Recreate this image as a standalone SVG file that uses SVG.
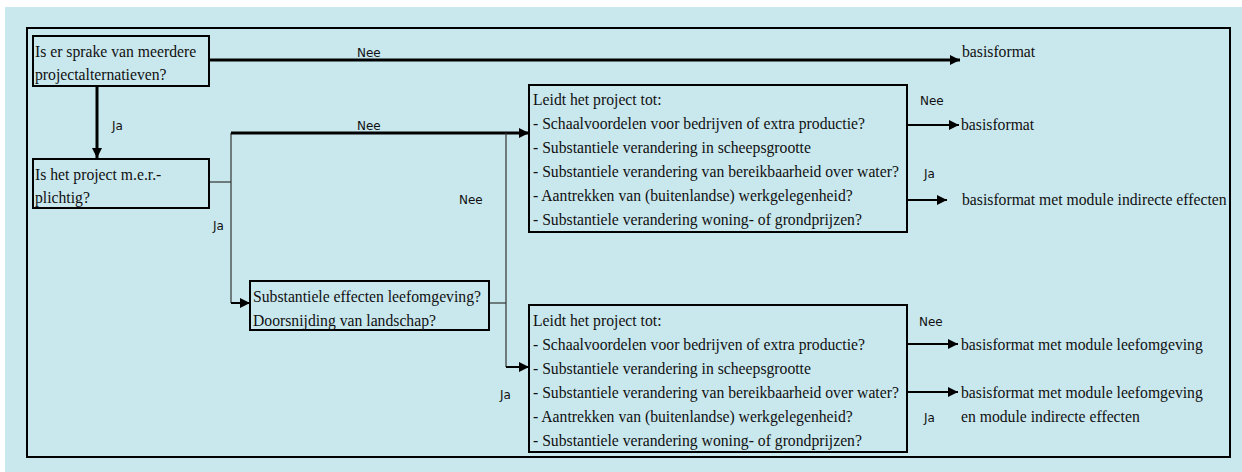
<svg xmlns="http://www.w3.org/2000/svg" width="1242" height="472" viewBox="0 0 1242 472">
<style>
.bg{fill:#c9e8ee}
.box{fill:none;stroke:#000;stroke-width:2}
.t{font-family:"Liberation Serif","Times New Roman",serif;font-size:15.7px;fill:#111}
.l{font-family:"DejaVu Sans",sans-serif;font-size:12px;fill:#111}
.thin{stroke:#333;stroke-width:1.2;fill:none}
.thick{stroke:#000;stroke-width:3;fill:none}
.med{stroke:#000;stroke-width:2;fill:none}
</style>
<defs>
<marker id="ah" viewBox="0 0 10 10" refX="10" refY="5" markerWidth="10" markerHeight="10" markerUnits="userSpaceOnUse" orient="auto">
<path d="M0,0 L10,5 L0,10 Z" fill="#000"/>
</marker>
</defs>
<rect class="bg" x="5" y="7" width="1237" height="465"/>
<rect x="27" y="28" width="1203" height="429" fill="none" stroke="#000" stroke-width="2"/>

<g id="connectors">
<line class="thick" x1="209" y1="60" x2="960" y2="60" marker-end="url(#ah)"/>
<line class="thick" x1="97" y1="86" x2="97" y2="158" marker-end="url(#ah)"/>
<polyline class="thin" points="209,182 231,182"/>
<line class="thin" x1="231" y1="133" x2="231" y2="303"/>
<line class="thick" x1="231" y1="133" x2="529" y2="133" marker-end="url(#ah)"/>
<line class="med" x1="231" y1="303" x2="250" y2="303" marker-end="url(#ah)"/>
<polyline class="thin" points="489,303 506,303"/>
<line class="thin" x1="506" y1="133" x2="506" y2="367"/>
<line class="med" x1="506" y1="367" x2="529" y2="367" marker-end="url(#ah)"/>
<line class="med" x1="907" y1="125" x2="959" y2="125" marker-end="url(#ah)"/>
<line class="med" x1="907" y1="200" x2="947" y2="200" marker-end="url(#ah)"/>
<line class="med" x1="907" y1="344" x2="958" y2="344" marker-end="url(#ah)"/>
<line class="med" x1="907" y1="392" x2="958" y2="392" marker-end="url(#ah)"/>
<text class="l" x="357" y="57">Nee</text>
<text class="l" x="112" y="130">Ja</text>
<text class="l" x="357" y="130">Nee</text>
<text class="l" x="213" y="230">Ja</text>
<text class="l" x="459" y="204">Nee</text>
<text class="l" x="500" y="399">Ja</text>
<text class="l" x="920" y="105">Nee</text>
<text class="l" x="924" y="178">Ja</text>
<text class="l" x="919" y="326">Nee</text>
<text class="l" x="924" y="422">Ja</text>
</g>

<g id="q1">
<rect class="box" x="33" y="36" width="176" height="50"/>
<text class="t" x="35" y="57">Is er sprake van meerdere</text>
<text class="t" x="35" y="80">projectalternatieven?</text>
</g>
<g id="q2">
<rect class="box" x="33" y="159" width="176" height="49"/>
<text class="t" x="35" y="180">Is het project m.e.r.-</text>
<text class="t" x="35" y="203">plichtig?</text>
</g>
<g id="q3">
<rect class="box" x="250" y="281" width="239" height="49"/>
<text class="t" x="253" y="302">Substantiele effecten leefomgeving?</text>
<text class="t" x="253" y="326">Doorsnijding van landschap?</text>
</g>
<g id="q4">
<rect class="box" x="529" y="85" width="378" height="147"/>
<text class="t" x="533" y="105">Leidt het project tot:</text>
<text class="t" x="533" y="129">- Schaalvoordelen voor bedrijven of extra productie?</text>
<text class="t" x="533" y="153">- Substantiele verandering in scheepsgrootte</text>
<text class="t" x="533" y="177">- Substantiele verandering van bereikbaarheid over water?</text>
<text class="t" x="533" y="201">- Aantrekken van (buitenlandse) werkgelegenheid?</text>
<text class="t" x="533" y="225">- Substantiele verandering woning- of grondprijzen?</text>
</g>
<g id="q5">
<rect class="box" x="529" y="305" width="378" height="147"/>
<text class="t" x="533" y="326">Leidt het project tot:</text>
<text class="t" x="533" y="350">- Schaalvoordelen voor bedrijven of extra productie?</text>
<text class="t" x="533" y="374">- Substantiele verandering in scheepsgrootte</text>
<text class="t" x="533" y="398">- Substantiele verandering van bereikbaarheid over water?</text>
<text class="t" x="533" y="422">- Aantrekken van (buitenlandse) werkgelegenheid?</text>
<text class="t" x="533" y="446">- Substantiele verandering woning- of grondprijzen?</text>
</g>
<g id="r1"><text class="t" x="962" y="57">basisformat</text></g>
<g id="r2"><text class="t" x="961" y="130">basisformat</text></g>
<g id="r3"><text class="t" x="962" y="205">basisformat met module indirecte effecten</text></g>
<g id="r4"><text class="t" x="961" y="350">basisformat met module leefomgeving</text></g>
<g id="r5"><text class="t" x="961" y="398">basisformat met module leefomgeving</text>
<text class="t" x="961" y="422">en module indirecte effecten</text></g>
</svg>
